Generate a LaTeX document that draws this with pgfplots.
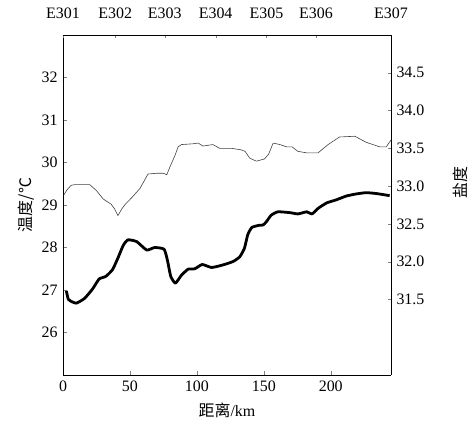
\documentclass[border=0pt]{standalone}
\usepackage{pgfplots}
\pgfplotsset{compat=1.18}
\usepackage{fontspec}
\setmainfont{Liberation Serif}
\newfontfamily\tnr{Liberation Serif}
\newfontfamily\cjk{Noto Sans CJK SC}
\begin{document}
\tnr\fontsize{16}{19}\selectfont
\begin{tikzpicture}
\begin{axis}[
  scale only axis, width=328bp, height=340bp,
  xmin=0, xmax=245, ymin=25, ymax=33,
  axis x line*=bottom, axis y line*=left,
  xtick={0,50,100,150,200}, ytick={26,27,...,32},
  tick align=inside, major tick length=4bp,
  /pgf/number format/assume math mode=true,
  tick label style={font=\tnr\fontsize{16}{19}\selectfont},
  xlabel={\cjk 距离\tnr/km}, ylabel={\cjk 温度/℃},
  label style={font=\fontsize{16}{19}\selectfont},
  xlabel style={yshift=-1bp},
  ylabel style={yshift=-4bp},
]
\coordinate (sw) at (rel axis cs:0,0);
\coordinate (ne) at (rel axis cs:1,1);
\addplot[black, line width=2.8pt, line join=round, smooth, tension=0.3] coordinates {
(2.5,26.98) (4,26.78) (7,26.72) (10,26.69) (16,26.80) (22,27.02) (27,27.26) (32,27.32)
(37,27.48) (41,27.75) (45,28.05) (48.5,28.18) (55,28.14) (62.5,27.94) (68.5,28.00)
(75.5,27.96) (78,27.70) (80.5,27.32) (84,27.16) (88.5,27.35) (93.5,27.49) (98.5,27.50)
(104,27.60) (111,27.53) (119.5,27.59) (127,27.67) (132,27.78) (135.5,27.98) (138,28.30)
(141,28.47) (146,28.52) (149.5,28.53) (152,28.61) (155.5,28.76) (160.5,28.84) (169.5,28.82)
(175.5,28.79) (182,28.84) (186,28.79) (190.5,28.92) (197,29.05) (204,29.12) (211.5,29.21)
(219,29.26) (226.5,29.29) (234,29.27) (244,29.22)
};
\end{axis}
\begin{axis}[
  scale only axis, width=328bp, height=340bp,
  xmin=0, xmax=245, ymin=30.5, ymax=35,
  axis x line*=top, axis y line*=right,
  xtick={0,39,76,114,152,189,245},
  xticklabels={E301,E302,E303,E304,E305,E306,E307},
  ytick={31.5,32,32.5,33,33.5,34,34.5},
  yticklabel style={/pgf/number format/.cd, fixed, fixed zerofill, precision=1},
  tick align=inside, major tick length=3bp,
  /pgf/number format/assume math mode=true,
  tick label style={font=\tnr\fontsize{16}{19}\selectfont},
  xticklabel style={yshift=11bp},
  ylabel={\cjk 盐度},
  label style={font=\fontsize{16}{19}\selectfont},
  ylabel style={at={(rel axis cs:1.2104,0.565)}, anchor=center},
]
\addplot[black!75, line width=0.6pt, line join=round] coordinates {
(0.5,32.88) (3,32.95) (6,33.01) (9,33.02) (20,33.02) (25,32.94) (30,32.83) (36,32.76)
(38.5,32.70) (41,32.61) (44,32.70) (46.5,32.76) (51.5,32.85) (57.5,32.97) (63.5,33.16)
(70,33.17) (75,33.17) (77.5,33.15) (80,33.26) (83.5,33.40) (86,33.52) (88.5,33.55)
(97,33.56) (101,33.57) (104.5,33.53) (112,33.55) (117,33.50) (126,33.50) (133,33.48)
(136,33.46) (139.5,33.37) (144.5,33.33) (150.5,33.36) (153.5,33.42) (157,33.57) (162,33.55)
(167,33.52) (171,33.52) (175.5,33.46) (182,33.44) (190.5,33.44) (198,33.55) (206.5,33.65)
(218,33.66) (226.5,33.58) (236.5,33.52) (241.5,33.52) (245,33.61)
};
\end{axis}
\pgfresetboundingbox
\path ([shift={(-63bp,-47bp)}]sw) rectangle ([shift={(81bp,35bp)}]ne);
\end{tikzpicture}
\end{document}
